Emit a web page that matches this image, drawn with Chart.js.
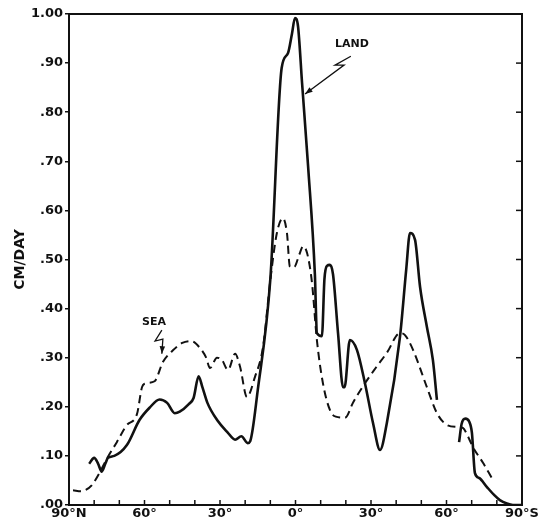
<!DOCTYPE html>
<html>
<head>
<meta charset="utf-8">
<script src="https://cdn.jsdelivr.net/npm/chart.js@4"></script>
<style>
  html, body { margin: 0; padding: 0; background: #fff; }
  #wrap { width: 544px; height: 523px; }
</style>
</head>
<body>
<div id="wrap"><canvas id="chart" width="544" height="523"></canvas></div>
<script>
'use strict';

// latitude: negative = north, positive = south
const landLat = [-82, -80, -78.5, -77, -75.5, -74.5, -72, -67, -62, -58, -54, -51, -48, -46, -42.5, -40.5, -38.5, -37, -35, -31, -27, -24, -21.5, -19, -18, -15, -10, -5.5, -3, -1.4, -0.2, 1, 2.6, 5, 7.7, 8.5, 10.5, 11.5, 12.5, 13.7, 14.9, 16.9, 18.9, 19.5, 21.6, 24.4, 27.6, 30.8, 33.6, 36.3, 41.5, 44, 45.5, 47.5, 49.5, 52.2, 54.6, 56.2, 60, 65, 66, 67.5, 69, 70.1, 71.3, 73, 76, 79, 81.2, 84, 86.4, 90];
const landVal = [0.084, 0.096, 0.085, 0.068, 0.085, 0.096, 0.100, 0.122, 0.173, 0.198, 0.215, 0.208, 0.187, 0.190, 0.205, 0.218, 0.262, 0.240, 0.208, 0.172, 0.148, 0.133, 0.140, 0.126, 0.130, 0.234, 0.46, 0.89, 0.92, 0.96, 0.992, 0.975, 0.86, 0.69, 0.47, 0.35, 0.344, 0.46, 0.487, 0.489, 0.470, 0.35, 0.24, 0.24, 0.336, 0.316, 0.248, 0.167, 0.112, 0.167, 0.342, 0.48, 0.554, 0.54, 0.444, 0.363, 0.295, 0.214, null, 0.128, 0.165, 0.176, 0.170, 0.147, 0.065, 0.055, 0.037, 0.020, 0.010, 0.003, 0, 0];

const seaLat = [-88.4, -85, -83.6, -81, -77.7, -75, -71, -67, -63, -61, -60, -56, -52.7, -48.7, -45, -41.5, -38, -35.5, -34, -31.2, -29.2, -26.8, -24, -22, -19.3, -16.1, -12.9, -10, -7.4, -5, -3.4, -2.2, -0.5, 1.5, 3, 4.6, 6.5, 8.5, 10.9, 13.7, 16, 19.7, 23, 27.6, 32, 36.3, 41.5, 43.5, 46.7, 52.2, 56.2, 60.2, 64.2, 66.5, 68.5, 70.5, 74.5, 78];
const seaVal = [0.030, 0.028, 0.030, 0.040, 0.067, 0.094, 0.128, 0.163, 0.185, 0.240, 0.247, 0.252, 0.291, 0.315, 0.330, 0.334, 0.320, 0.300, 0.279, 0.300, 0.295, 0.275, 0.308, 0.281, 0.220, 0.261, 0.322, 0.458, 0.554, 0.584, 0.554, 0.485, 0.485, 0.510, 0.527, 0.513, 0.455, 0.336, 0.248, 0.193, 0.180, 0.178, 0.210, 0.248, 0.280, 0.310, 0.350, 0.346, 0.316, 0.240, 0.187, 0.163, 0.159, 0.157, 0.140, 0.118, 0.086, 0.055];

const fontFamily = '"DejaVu Sans", sans-serif';
const ink = '#111';

function toPoints(lats, vals) {
  return lats.map((x, i) => ({ x: x, y: vals[i] }));
}

function latLabel(value) {
  if (value % 30 !== 0) return '';
  if (value === -90) return '90°N';
  if (value === 90) return '90°S';
  return Math.abs(value) + '°';
}

// frame, inward ticks and the two zigzag callouts
const framePlugin = {
  id: 'frame_and_callouts',
  afterDraw(chart) {
    const { ctx, chartArea } = chart;
    const xs = chart.scales.x;
    const ys = chart.scales.y;
    ctx.save();
    ctx.strokeStyle = ink;
    ctx.lineWidth = 2;
    ctx.strokeRect(chartArea.left, chartArea.top, chartArea.right - chartArea.left, chartArea.bottom - chartArea.top);

    ctx.lineWidth = 1.5;
    xs.ticks.forEach((t) => {
      if (t.value <= -90 || t.value >= 90) return;
      const px = xs.getPixelForValue(t.value);
      ctx.beginPath();
      ctx.moveTo(px, chartArea.bottom);
      ctx.lineTo(px, chartArea.bottom - 5);
      ctx.stroke();
    });
    ys.ticks.forEach((t) => {
      if (t.value <= 0 || t.value >= 1) return;
      const py = ys.getPixelForValue(t.value);
      ctx.beginPath();
      ctx.moveTo(chartArea.right, py);
      ctx.lineTo(chartArea.right - 6, py);
      ctx.stroke();
    });

    const P = (lat, v) => [xs.getPixelForValue(lat), ys.getPixelForValue(v)];
    function callout(text, textAt, path) {
      ctx.fillStyle = ink;
      ctx.font = 'bold 11px ' + fontFamily;
      ctx.textAlign = 'center';
      ctx.textBaseline = 'middle';
      const [tx, ty] = P(textAt[0], textAt[1]);
      ctx.fillText(text, tx, ty);
      ctx.lineWidth = 1.3;
      ctx.beginPath();
      path.forEach((p, i) => {
        const [px, py] = P(p[0], p[1]);
        if (i === 0) ctx.moveTo(px, py); else ctx.lineTo(px, py);
      });
      ctx.stroke();
      // arrow head
      const [ax, ay] = P(path[path.length - 1][0], path[path.length - 1][1]);
      const [bx, by] = P(path[path.length - 2][0], path[path.length - 2][1]);
      const ang = Math.atan2(ay - by, ax - bx);
      ctx.beginPath();
      ctx.moveTo(ax, ay);
      ctx.lineTo(ax - 8 * Math.cos(ang - 0.35), ay - 8 * Math.sin(ang - 0.35));
      ctx.lineTo(ax - 8 * Math.cos(ang + 0.35), ay - 8 * Math.sin(ang + 0.35));
      ctx.closePath();
      ctx.fill();
    }
    callout('LAND', [22.4, 0.939], [[22.0, 0.914], [15.7, 0.896], [19.3, 0.896], [3.8, 0.837]]);
    callout('SEA', [-56.2, 0.373], [[-53.1, 0.356], [-55.8, 0.334], [-52.7, 0.338], [-53.1, 0.308]]);
    ctx.restore();
  },
};

const ctx = document.getElementById('chart').getContext('2d');
new Chart(ctx, {
  type: 'line',
  data: {
    datasets: [
      {
        label: 'LAND',
        data: toPoints(landLat, landVal),
        borderColor: ink,
        borderWidth: 2.6,
        pointRadius: 0,
        cubicInterpolationMode: 'monotone',
        spanGaps: false,
        fill: false,
      },
      {
        label: 'SEA',
        data: toPoints(seaLat, seaVal),
        borderColor: ink,
        borderWidth: 2,
        borderDash: [8, 5],
        pointRadius: 0,
        cubicInterpolationMode: 'monotone',
        fill: false,
      },
    ],
  },
  options: {
    responsive: false,
    animation: false,
    layout: { padding: { top: 14, right: 22, left: 0, bottom: 0 } },
    plugins: {
      legend: { display: false },
      tooltip: { enabled: false },
    },
    scales: {
      x: {
        type: 'linear',
        min: -90,
        max: 90,
        afterFit: (scale) => { scale.height = 18; },
        ticks: {
          stepSize: 10,
          autoSkip: false,
          maxRotation: 0,
          padding: 1,
          color: ink,
          font: { family: fontFamily, size: 13, weight: 'bold' },
          callback: latLabel,
        },
        grid: { display: true, drawOnChartArea: false, tickLength: 0 },
        border: { display: false },
      },
      y: {
        min: 0,
        max: 1,
        afterFit: (scale) => { scale.width = 69; },
        title: {
          display: true,
          text: 'CM/DAY',
          color: ink,
          font: { family: fontFamily, size: 14, weight: 'bold' },
          padding: { top: 12, bottom: 0 },
        },
        ticks: {
          stepSize: 0.1,
          padding: 2,
          color: ink,
          font: { family: fontFamily, size: 13, weight: 'bold' },
          callback: (v) => {
            const s = Number(v).toFixed(2);
            return s.startsWith('0') ? s.slice(1) : s;
          },
        },
        grid: { display: true, drawOnChartArea: false, tickLength: 4, color: ink, lineWidth: 1.5 },
        border: { display: false },
      },
    },
  },
  plugins: [framePlugin],
});
</script>
</body>
</html>
